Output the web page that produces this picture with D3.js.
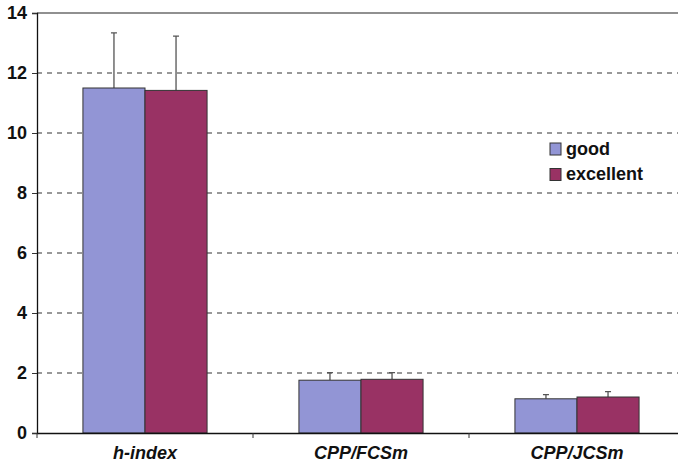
<!DOCTYPE html>
<html>
<head>
<meta charset="UTF-8">
<style>
  body { margin: 0; background: #fff; }
  svg text { font-family: "Liberation Sans", Arial, sans-serif; font-weight: bold; fill: #111; }
</style>
<script src="https://cdn.jsdelivr.net/npm/d3@7"></script>
</head>
<body>
<script>
  const categories = ["h-index", "CPP/FCSm", "CPP/JCSm"];
  const seriesNames = ["good", "excellent"];
  const goodValues = [11.5, 1.76, 1.14];
  const excellentValues = [11.42, 1.79, 1.2];
  const goodErrTop = [13.34, 2.01, 1.28];
  const excellentErrTop = [13.23, 2.01, 1.38];
  const yTicks = [0, 2, 4, 6, 8, 10, 12, 14];
  const colors = ["#9295d5", "#993264"];

  const width = 678, height = 464;
  const plotLeft = 37, plotTop = 13, plotBottom = 433, plotRight = 685;

  const svg = d3.select("body").append("svg")
      .attr("width", width).attr("height", height);

  const x = d3.scaleBand().domain(categories).range([plotLeft, plotRight]);
  const xs = d3.scaleBand().domain(seriesNames).range([0, x.bandwidth()]).paddingInner(0).paddingOuter(0.74);
  const y = d3.scaleLinear().domain([0, 14]).range([plotBottom, plotTop]);

  // dashed grid
  svg.append("g").selectAll("line")
    .data(yTicks.filter(d => d > 0 && d < 14))
    .join("line")
      .attr("x1", plotLeft).attr("x2", plotRight)
      .attr("y1", d => y(d)).attr("y2", d => y(d))
      .attr("stroke", "#333").attr("stroke-width", 1)
      .attr("stroke-dasharray", "5,5");

  // top frame line
  svg.append("line")
    .attr("x1", plotLeft).attr("x2", plotRight)
    .attr("y1", y(14)).attr("y2", y(14))
    .attr("stroke", "#222").attr("stroke-width", 1.2);

  const rows = categories.map((c, i) => ({
    cat: c,
    vals: [
      {s: "good", v: goodValues[i], e: goodErrTop[i], c: colors[0]},
      {s: "excellent", v: excellentValues[i], e: excellentErrTop[i], c: colors[1]}
    ]
  }));

  const groups = svg.append("g").selectAll("g")
    .data(rows).join("g")
      .attr("transform", d => "translate(" + x(d.cat) + ",0)");

  // error bars
  groups.selectAll(".err").data(d => d.vals).join("path")
    .attr("class", "err")
    .attr("d", d => {
      const cx = xs(d.s) + xs.bandwidth() / 2;
      return "M" + cx + "," + y(d.v) + "V" + y(d.e) + "M" + (cx - 3) + "," + y(d.e) + "H" + (cx + 3);
    })
    .attr("stroke", "#555").attr("stroke-width", 1.3).attr("fill", "none");

  groups.selectAll("rect").data(d => d.vals).join("rect")
    .attr("x", d => xs(d.s))
    .attr("width", xs.bandwidth())
    .attr("y", d => y(d.v))
    .attr("height", d => y(0) - y(d.v))
    .attr("fill", d => d.c)
    .attr("stroke", "#333").attr("stroke-width", 1);

  // y axis
  const yAxis = svg.append("g")
    .attr("transform", "translate(" + plotLeft + ",0)")
    .call(d3.axisLeft(y).tickValues(yTicks).tickSize(5).tickPadding(5));
  yAxis.select(".domain").attr("stroke", "#111").attr("stroke-width", 1.3);
  yAxis.selectAll(".tick line").attr("stroke", "#333");
  yAxis.selectAll("text").style("font-size", "18px").attr("fill", "#111");

  // x axis
  const xAxis = svg.append("g")
    .attr("transform", "translate(0," + plotBottom + ")")
    .call(d3.axisBottom(x).tickSize(0).tickPadding(13));
  xAxis.select(".domain").attr("stroke", "#111").attr("stroke-width", 1.3);
  xAxis.selectAll("text").style("font-size", "18px").style("font-style", "italic").attr("fill", "#111");
  xAxis.selectAll(".sep").data(categories).join("line")
    .attr("class", "sep")
    .attr("x1", d => x(d)).attr("x2", d => x(d))
    .attr("y1", 0).attr("y2", 5)
    .attr("stroke", "#333");

  // legend
  const legend = svg.append("g").attr("transform", "translate(550,143)");
  const li = legend.selectAll("g").data(seriesNames).join("g")
    .attr("transform", (d, i) => "translate(0," + i * 25.5 + ")");
  li.append("rect").attr("width", 11).attr("height", 12)
    .attr("fill", (d, i) => colors[i]).attr("stroke", "#333");
  li.append("text").attr("x", 16).attr("y", 11.5)
    .style("font-size", "18px").text(d => d);
</script>
</body>
</html>
